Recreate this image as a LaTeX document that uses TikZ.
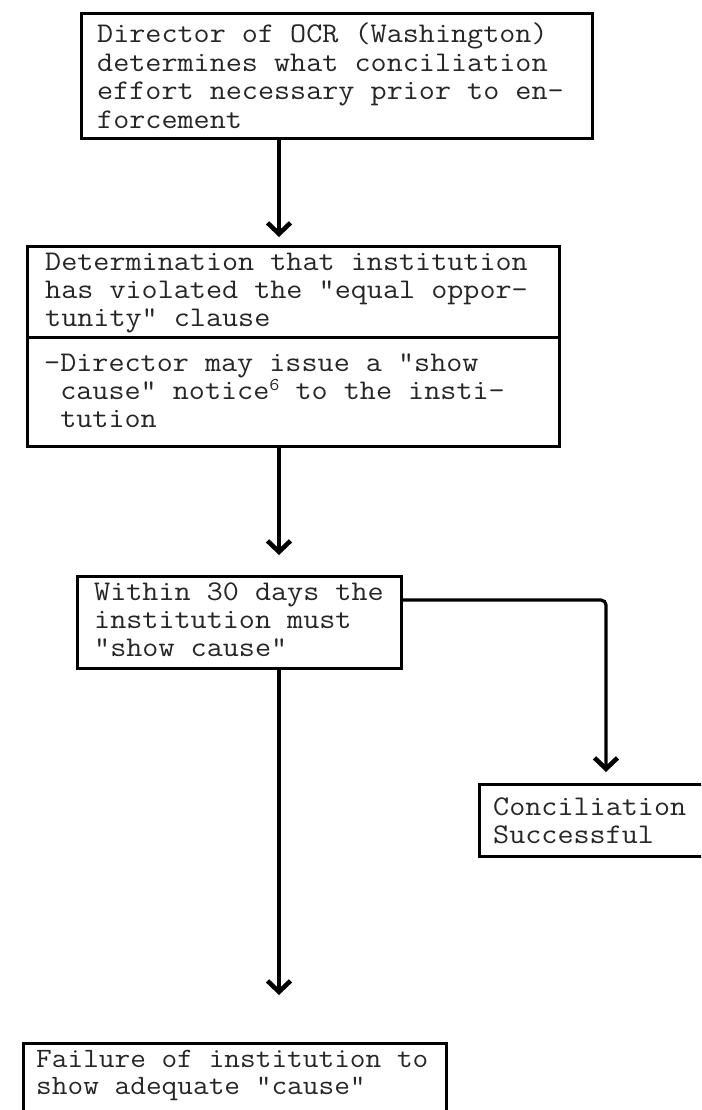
\documentclass[tikz,border=0pt]{standalone}
\usepackage{fontspec}
\usetikzlibrary{arrows.meta}
% typewriter face used for every label, widened to pica pitch
\newcommand\tw{\ttfamily}
% left-aligned block of lines whose baseline is the first line
\newcommand\twlines[2][1.096]{\scalebox{#1}[1]{\begin{tabular}[t]{@{}l@{}}#2\end{tabular}}}
\newcommand\supsix{\raisebox{9pt}{\fontsize{18}{18}\selectfont 6}}

\begin{document}
\begin{tikzpicture}[x=1pt,y=-1pt,
  boxline/.style={draw=black, line width=3pt},
  frame/.style={boxline, rectangle, inner sep=0pt, anchor=north west},
  txt/.style={anchor=base west, inner sep=0pt, text=black!85},
  link/.style={line width=3.2pt, line cap=round},
  arr/.style={link, -{Straight Barb[length=11pt,width=23pt,line width=4.6pt]}}
]
\useasboundingbox (0,0) rectangle (701,1110);
\fill[white] (0,0) rectangle (701,1110);
\clip (0,0) rectangle (701,1110);

% boxes
\node[frame, minimum width=511pt, minimum height=125pt] (b1) at (80,12) {};
\node[frame, minimum width=532pt, minimum height=200pt] (b2) at (26,245) {};
\node[frame, minimum width=324pt, minimum height=92pt]  (b3) at (76,575) {};
\node[frame, minimum width=260pt, minimum height=72pt]  (b5) at (478,783) {};
\node[frame, minimum width=423pt, minimum height=120pt] (b4) at (22,1042) {};

% texts
\node[txt, font=\tw\fontsize{28.5}{28.4}\selectfont] (t1) at (97,43) {\twlines{%
Director of OCR (Washington)\\
determines what conciliation\\
effort necessary prior to en-\\
forcement}};
\node[txt, font=\tw\fontsize{28.5}{28.2}\selectfont] (t2a) at (45,270) {\twlines{%
Determination that institution\\
has violated the "equal oppor-\\
tunity" clause}};
\node[txt, font=\tw\fontsize{28.5}{28}\selectfont] (t2b) at (44,371) {\twlines{%
-Director may issue a "show\\
\ cause" notice\supsix{} to the insti-\\
\ tution}};
\node[txt, font=\tw\fontsize{28.5}{28}\selectfont] (t3) at (94,600) {\twlines{%
Within 30 days the\\
institution must\\
"show cause"}};
\node[txt, font=\tw\fontsize{28.5}{28}\selectfont] (t5) at (493,815) {\twlines{%
Conciliation\\
Successful}};
\node[txt, font=\tw\fontsize{28}{27.5}\selectfont] (t4) at (36,1067) {\twlines[1.088]{%
Failure of institution to\\
show adequate "cause"}};

% divider inside the second box
\coordinate (sep) at (0,337);
\draw[boxline] (b2.west |- sep) -- (b2.east |- sep);

% connectors
\coordinate (axis) at (279,0);
\coordinate (branch) at (606,600);
\draw[arr, shorten >=8pt] (b1.south -| axis) -- (b2.north -| axis);
\draw[arr, shorten >=20pt] (b2.south -| axis) -- (b3.north -| axis);
\draw[arr, shorten >=47pt] (b3.south -| axis) -- (b4.north -| axis);
\draw[arr, rounded corners=5pt, shorten >=11pt] (b3.east |- branch) -- (branch) -- (b5.north -| branch);
\end{tikzpicture}
\end{document}
